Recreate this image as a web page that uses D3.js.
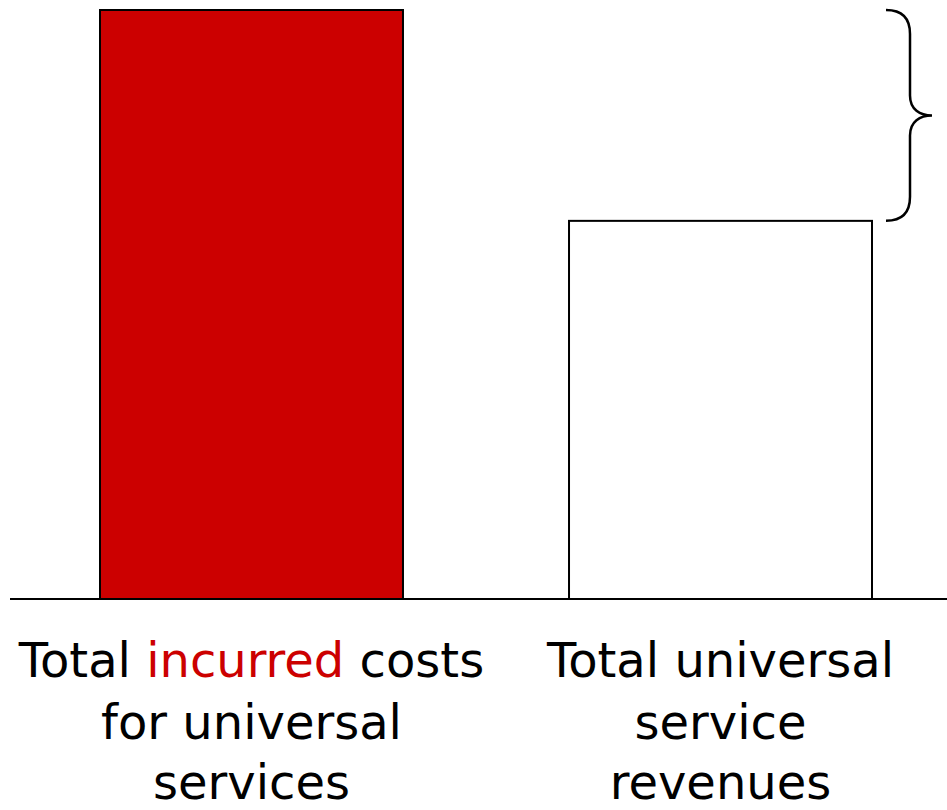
<!DOCTYPE html>
<html>
<head>
<meta charset="utf-8">
<script src="https://cdn.jsdelivr.net/npm/d3@7"></script>
<style>
	body { margin: 0; background: #fff; }
	svg { display: block; }
</style>
</head>
<body>
<div id="chart"></div>
<script>
var categories = ['costs', 'revenues'];
var values = [100, 64.2];
var labelLines = [
	[[['Total ', '#000'], ['incurred', '#cc0000'], [' costs', '#000']], [['for universal', '#000']], [['services', '#000']]],
	[[['Total universal', '#000']], [['service', '#000']], [['revenues', '#000']]]
];
var fills = ['#cc0000', '#ffffff'];

var width = 947,
	height = 810;

var svg = d3.select('#chart')
	.append('svg')
	.attr('width', width)
	.attr('height', height);

var x = d3.scaleBand()
	.domain(categories)
	.range([100, 872])
	.paddingInner(0.354)
	.paddingOuter(0);

var y = d3.scaleLinear()
	.domain([0, 100])
	.range([599, 10]);

svg.selectAll('rect.bar')
	.data(values)
	.enter()
	.append('rect')
	.attr('class', 'bar')
	.attr('x', function(d, i) { return x(categories[i]); })
	.attr('y', function(d) { return y(d); })
	.attr('width', x.bandwidth())
	.attr('height', function(d) { return y(0) - y(d); })
	.attr('fill', function(d, i) { return fills[i]; })
	.attr('stroke', '#000')
	.attr('stroke-width', 2);

// baseline
svg.append('line')
	.attr('x1', 10)
	.attr('x2', width)
	.attr('y1', y(0))
	.attr('y2', y(0))
	.attr('stroke', '#000')
	.attr('stroke-width', 2);

// brace showing the gap
var braceTop = y(values[0]),
	braceBot = y(values[1]),
	mid = (braceTop + braceBot) / 2,
	bx = 910;

var brace = d3.path();
brace.moveTo(886, braceTop);
brace.bezierCurveTo(902, braceTop, bx, braceTop + 8, bx, braceTop + 24);
brace.lineTo(bx, mid - 20);
brace.bezierCurveTo(bx, mid - 6, 920, mid, 932, mid);
brace.bezierCurveTo(920, mid, bx, mid + 6, bx, mid + 20);
brace.lineTo(bx, braceBot - 24);
brace.bezierCurveTo(bx, braceBot - 8, 902, braceBot, 886, braceBot);

svg.append('path')
	.attr('d', brace.toString())
	.attr('fill', 'none')
	.attr('stroke', '#000')
	.attr('stroke-width', 2.5);

// category labels
var lineY = [677, 739, 799];

categories.forEach(function(c, i) {
	var cx = x(c) + x.bandwidth() / 2;
	labelLines[i].forEach(function(parts, j) {
		var t = svg.append('text')
			.attr('x', cx)
			.attr('y', lineY[j])
			.attr('text-anchor', 'middle')
			.style('font-family', 'Tahoma, "DejaVu Sans", sans-serif')
			.style('font-size', '48px');
		parts.forEach(function(p) {
			t.append('tspan')
				.attr('fill', p[1])
				.style('white-space', 'pre')
				.text(p[0]);
		});
	});
});
</script>
</body>
</html>
